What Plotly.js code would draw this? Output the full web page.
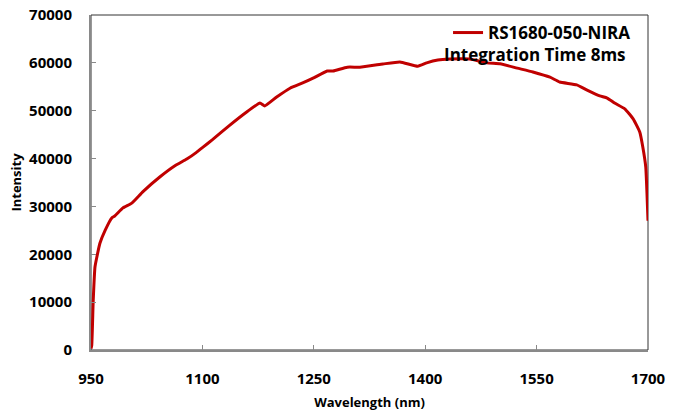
<!DOCTYPE html>
<html>
<head>
<meta charset="utf-8">
<script src="https://cdn.plot.ly/plotly-3.0.1.min.js"></script>
<style>html,body{margin:0;padding:0;background:#fff;}#chart{width:700px;height:416px;}</style>
</head>
<body>
<div id="chart"></div>
<script>
const seriesName = "RS1680-050-NIRA";
const noteText = "Integration Time 8ms";
const wavelength = [950, 951, 953, 955.4, 962, 969, 978, 982, 993, 1005, 1020, 1043, 1063, 1079, 1092, 1100, 1114, 1137, 1161, 1177.5, 1184, 1200, 1218, 1235, 1249, 1268, 1276, 1295, 1312, 1343, 1366, 1390, 1402, 1417, 1433, 1460, 1483, 1501, 1524, 1545, 1568, 1581, 1604, 1618, 1635, 1645, 1655, 1669, 1680, 1689, 1693, 1697, 1698.6, 1700];
const intensity = [300, 1000, 10400, 17400, 22300, 25000, 27600, 28000, 29700, 30700, 33100, 36200, 38500, 39900, 41300, 42300, 44000, 47000, 49900, 51600, 51000, 52860, 54700, 55800, 56800, 58300, 58300, 59100, 59100, 59760, 60200, 59300, 60000, 60600, 60800, 60800, 60000, 59800, 58900, 58100, 57000, 56000, 55400, 54300, 53100, 52650, 51600, 50350, 48300, 45500, 42400, 38200, 32800, 27000];
const xTicks = [950, 1100, 1250, 1400, 1550, 1700];
const yTicks = [0, 10000, 20000, 30000, 40000, 50000, 60000, 70000];

const fontFam = "Open Sans, Noto Sans, sans-serif";
const trace = {
  x: wavelength, y: intensity, type: 'scatter', mode: 'lines', name: seriesName,
  line: {color: '#C00000', width: 3, shape: 'spline', smoothing: 0.4}
};
const layout = {
  width: 700, height: 416,
  margin: {l: 91, r: 52, t: 15, b: 66},
  paper_bgcolor: '#fff', plot_bgcolor: '#fff',
  showlegend: true,
  legend: {x: 0.641, xanchor: 'left', y: 1.0, yanchor: 'top', bgcolor: 'rgba(0,0,0,0)',
           font: {family: fontFam, size: 17, color: '#000', weight: 'bold'}, tracegroupgap: 0},
  xaxis: {
    range: [950, 1700], tickmode: 'array', tickvals: xTicks, ticktext: xTicks.map(String),
    showgrid: false, zeroline: false, showline: true, linecolor: '#898989', linewidth: 2,
    ticks: 'inside', ticklen: 5, tickcolor: '#898989', tickwidth: 1,
    ticklabelstandoff: 14,
    tickfont: {family: fontFam, size: 15, color: '#000', weight: 'bold'},
    title: {text: 'Wavelength (nm)', font: {family: fontFam, size: 13, color: '#000', weight: 'bold'}, standoff: 11}
  },
  yaxis: {
    range: [0, 70000], tickmode: 'array', tickvals: yTicks, ticktext: yTicks.map(String),
    showgrid: false, zeroline: false, showline: true, linecolor: '#898989', linewidth: 2,
    ticks: 'inside', ticklen: 5, tickcolor: '#898989', tickwidth: 1,
    ticklabelstandoff: 14,
    tickfont: {family: fontFam, size: 15, color: '#000', weight: 'bold'},
    title: {text: 'Intensity', font: {family: fontFam, size: 13, color: '#000', weight: 'bold'}, standoff: 5}
  },
  shapes: [{type: 'rect', xref: 'paper', yref: 'paper', x0: 0, x1: 1, y0: 0, y1: 1,
            line: {color: '#333', width: 1}, layer: 'below'}],
  annotations: [{text: noteText, xref: 'paper', yref: 'paper', x: 0.798, y: 0.882,
                 xanchor: 'center', yanchor: 'middle', showarrow: false,
                 font: {family: fontFam, size: 17, color: '#000', weight: 'bold'}}]
};
Plotly.newPlot('chart', [trace], layout, {staticPlot: true, displayModeBar: false});
</script>
</body>
</html>
